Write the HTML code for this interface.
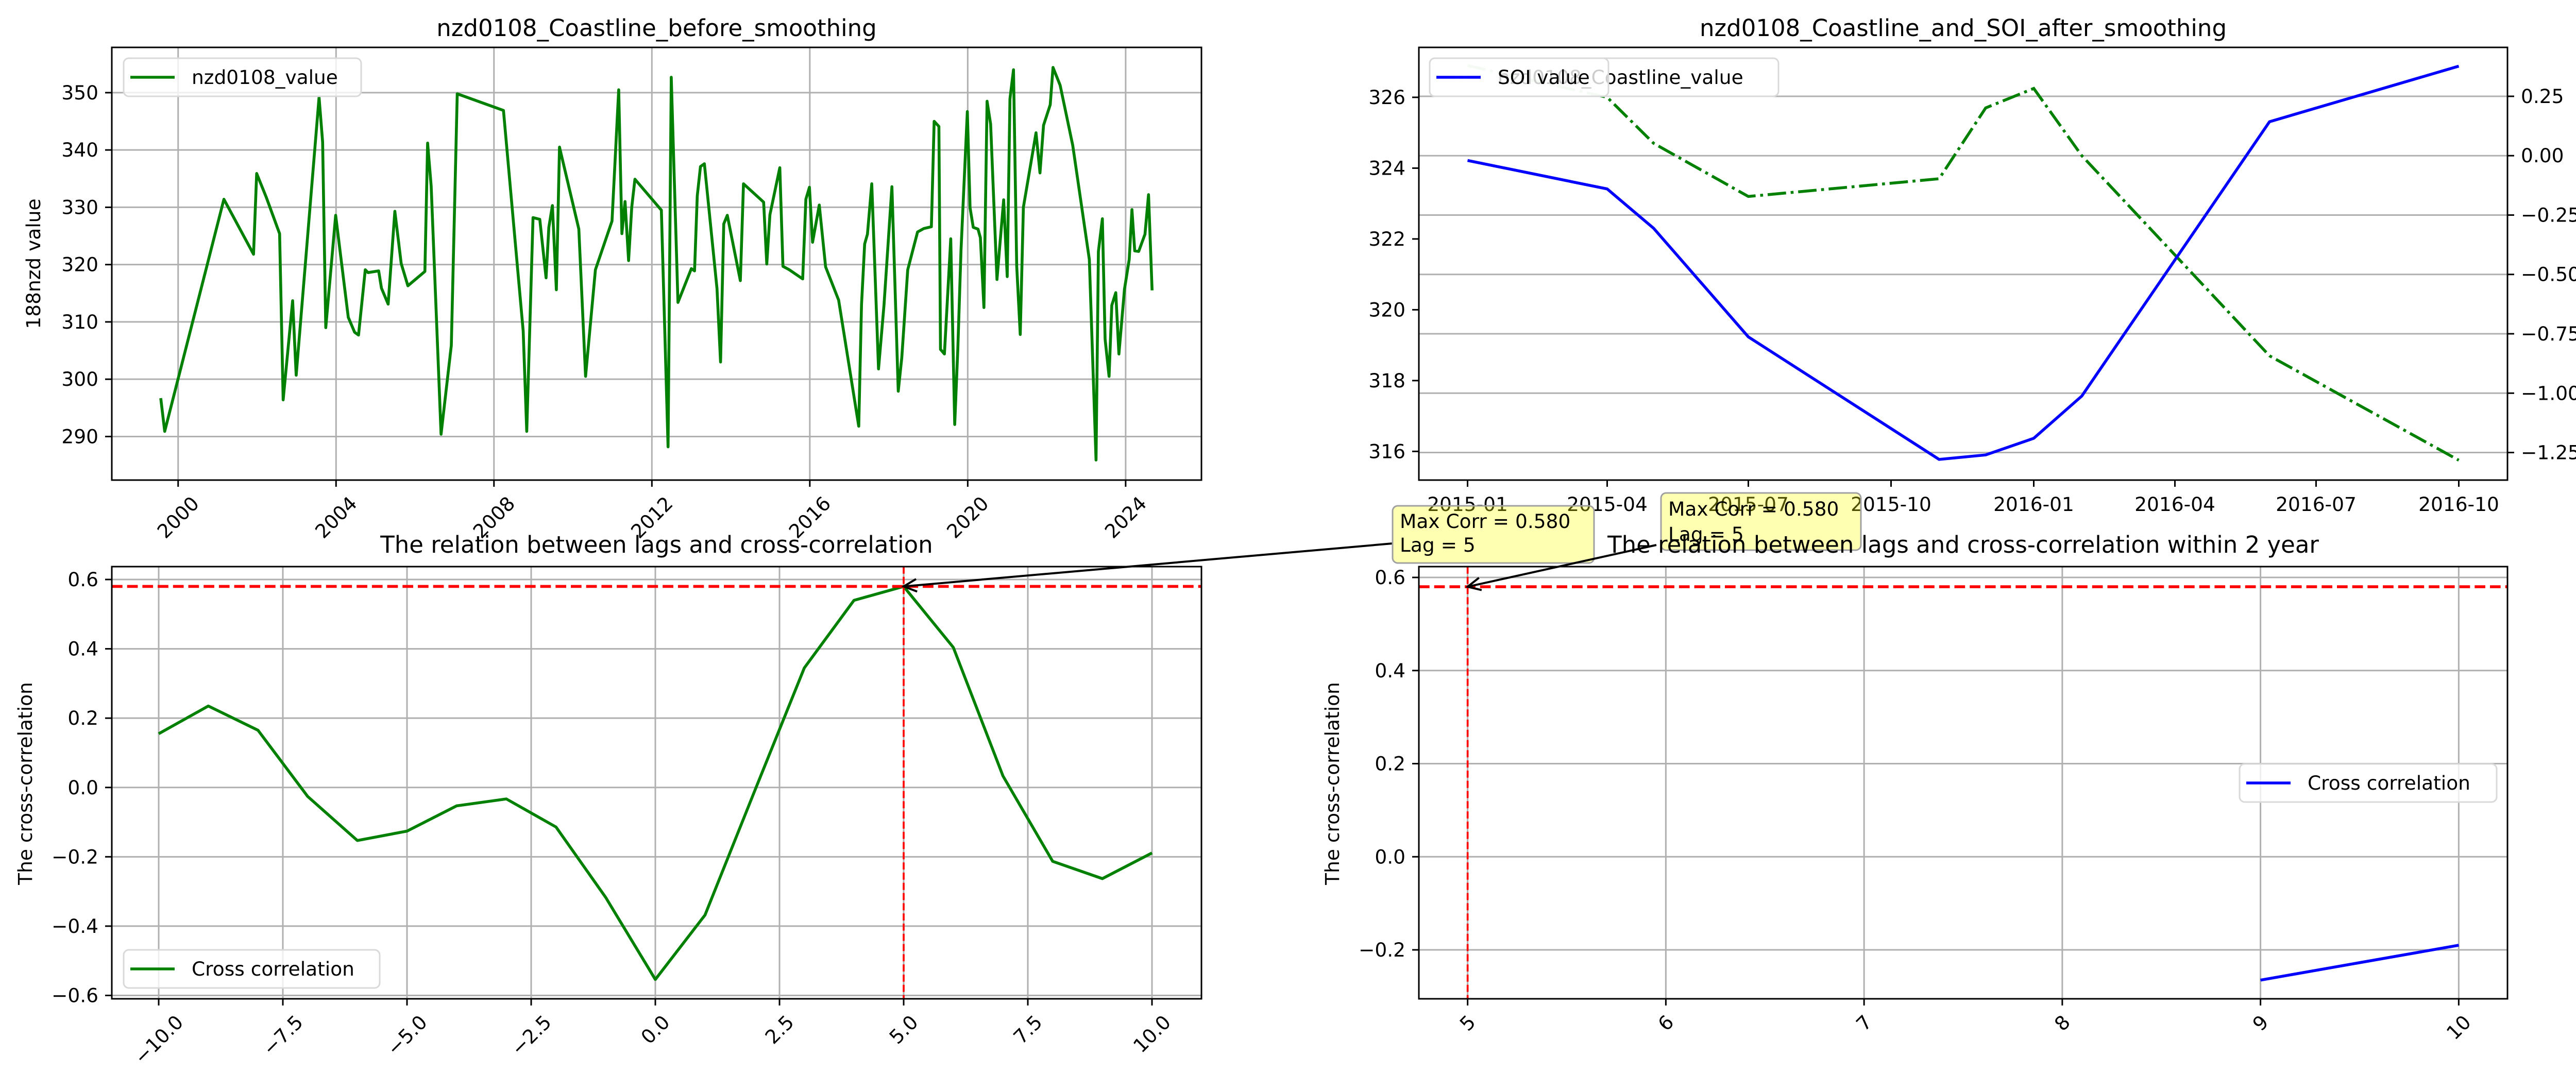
<!DOCTYPE html>
<html><head><meta charset="utf-8"><style>
html,body{margin:0;padding:0;background:#fff;}
svg{display:block;font-family:"DejaVu Sans","Liberation Sans",sans-serif;}
</style></head><body>
<svg id="chart" xmlns="http://www.w3.org/2000/svg" width="5110" height="2118" viewBox="0 0 5110 2118"></svg>
<script>
// ---------- data ----------
const tlYears = [1999.56,1999.66,2001.16,2001.91,2001.99,2002.23,2002.57,2002.66,2002.90,2002.99,2003.57,2003.66,2003.74,2003.99,2004.31,2004.47,2004.57,2004.74,2004.81,2005.08,2005.15,2005.32,2005.49,2005.65,2005.82,2006.25,2006.32,2006.41,2006.66,2006.92,2007.07,2008.24,2008.74,2008.83,2008.99,2009.16,2009.32,2009.39,2009.48,2009.58,2009.66,2010.15,2010.32,2010.57,2010.99,2011.16,2011.24,2011.32,2011.41,2011.49,2011.57,2012.24,2012.41,2012.49,2012.66,2013.00,2013.08,2013.15,2013.23,2013.33,2013.65,2013.74,2013.82,2013.91,2014.24,2014.32,2014.83,2014.91,2014.99,2015.24,2015.32,2015.48,2015.82,2015.90,2015.99,2016.07,2016.24,2016.40,2016.73,2017.24,2017.31,2017.39,2017.46,2017.57,2017.74,2017.88,2018.08,2018.24,2018.33,2018.48,2018.73,2018.89,2019.08,2019.15,2019.27,2019.31,2019.41,2019.57,2019.67,2019.75,2019.83,2019.99,2020.06,2020.14,2020.26,2020.32,2020.41,2020.49,2020.58,2020.74,2020.91,2021.00,2021.07,2021.16,2021.24,2021.33,2021.41,2021.73,2021.83,2021.92,2022.09,2022.16,2022.34,2022.66,2023.08,2023.25,2023.31,2023.41,2023.48,2023.58,2023.65,2023.75,2023.83,2023.97,2024.09,2024.16,2024.23,2024.33,2024.49,2024.58,2024.67];
const tlValues = [296.7,290.9,331.4,321.8,335.9,331.8,325.4,296.4,313.7,300.7,349.2,341.4,309.0,328.6,310.8,308.2,307.7,319.1,318.6,318.9,315.9,313.1,329.3,320.2,316.3,318.8,341.2,333.7,290.4,305.9,349.8,346.9,308.4,290.9,328.2,327.9,317.7,326.5,330.3,315.6,340.5,326.2,300.5,319.1,327.6,350.5,325.4,331.0,320.7,330.0,334.9,329.5,288.2,352.7,313.4,319.3,318.9,332.0,337.1,337.6,315.8,303.0,327.1,328.6,317.2,334.1,330.9,320.1,328.7,336.9,319.7,319.1,317.5,331.4,333.5,323.9,330.4,319.6,313.8,291.8,313.0,323.6,325.3,334.1,301.8,313.0,333.6,297.9,303.8,319.1,325.7,326.3,326.6,345.0,344.1,305.2,304.4,324.5,292.1,305.5,322.5,346.7,329.9,326.5,326.2,324.7,312.5,348.5,344.5,317.4,331.3,317.9,348.9,354.0,319.8,307.8,330.0,343.0,336.0,344.3,347.9,354.4,351.3,340.8,320.9,285.9,322.3,328.0,307.0,300.5,312.9,315.1,304.4,315.7,320.9,329.6,322.4,322.3,325.3,332.2,315.5];
const tlYTicks = [290,300,310,320,330,340,350];
const tlXTicks = [2000,2004,2008,2012,2016,2020,2024];

const trDates = ["2015-01-01","2015-04-01","2015-05-01","2015-07-01","2015-11-01","2015-12-01","2016-01-01","2016-02-01","2016-06-01","2016-10-01"];
const trCoast = [326.9,326.0,324.7,323.2,323.7,325.7,326.25,324.35,318.7,315.75];
const trSOI = [-0.02,-0.14,-0.306,-0.763,-1.279,-1.26,-1.19,-1.012,0.143,0.377];
const trXTicks = ["2015-01","2015-04","2015-07","2015-10","2016-01","2016-04","2016-07","2016-10"];
const trLeftTicks = [316,318,320,322,324,326];
const trRightTicks = [0.25,0,-0.25,-0.5,-0.75,-1.0,-1.25];
const trRightLabels = ["0.25","0.00","\u22120.25","\u22120.50","\u22120.75","\u22121.00","\u22121.25"];

const blLags = [-10,-9,-8,-7,-6,-5,-4,-3,-2,-1,0,1,2,3,4,5,6,7,8,9,10];
const blCorr = [0.155,0.235,0.165,-0.026,-0.153,-0.126,-0.053,-0.033,-0.114,-0.317,-0.554,-0.368,-0.01,0.345,0.54,0.58,0.404,0.033,-0.213,-0.263,-0.189];
const blXTicks = [-10,-7.5,-5,-2.5,0,2.5,5,7.5,10];
const blYTicks = [-0.6,-0.4,-0.2,0,0.2,0.4,0.6];

const brLags = [9,10];
const brCorr = [-0.265,-0.19];
const brXTicks = [5,6,7,8,9,10];
const brYTicks = [-0.2,0,0.2,0.4,0.6];

const maxLag = 5;
const maxCorr = 0.580;

// ---------- helpers ----------
const NS='http://www.w3.org/2000/svg';
const svg=document.getElementById('chart');
function mk(tag, attrs, parent){const e=document.createElementNS(NS,tag);for(const k in attrs)e.setAttribute(k,attrs[k]);(parent||svg).appendChild(e);return e;}
function lin(d0,d1,r0,r1){return v=>r0+(v-d0)*(r1-r0)/(d1-d0);}
function fmt(v,dec){const s=Math.abs(v).toFixed(dec);return (v<-1e-9?'\u2212':'')+s;}
function dayNum(s){const p=s.split('-');return (Date.UTC(+p[0],+p[1]-1,+(p[2]||1))-Date.UTC(2015,0,1))/86400000;}
const FS=37.5, TICK=13, PAD=13;

function frame(ax,name){
  const g=mk('g',{});
  
  
  mk('rect',{x:ax.l,y:ax.t,width:ax.r-ax.l,height:ax.b-ax.t,fill:'none',stroke:'#000','stroke-width':3},g);
}
function ytickLeft(ax,sy,vals,labels,grid,name){
  const g=mk('g',{});
  
  
  vals.forEach((v,i)=>{
    const y=sy(v);
    if(grid){const gl=mk('line',{x1:ax.l,x2:ax.r,y1:y,y2:y,stroke:'#b0b0b0','stroke-width':3},ax.gridG);
      
      }
    mk('line',{x1:ax.l-TICK,x2:ax.l,y1:y,y2:y,stroke:'#000','stroke-width':3},g);
    const t=mk('text',{x:ax.l-TICK-PAD,y:y,'text-anchor':'end','dominant-baseline':'central','font-size':FS},g);
    t.textContent=labels[i];
    
    
  });
}
function ytickRight(ax,sy,vals,labels,grid,name){
  const g=mk('g',{});
  
  
  vals.forEach((v,i)=>{
    const y=sy(v);
    if(grid){const gl=mk('line',{x1:ax.l,x2:ax.r,y1:y,y2:y,stroke:'#b0b0b0','stroke-width':3},ax.gridG);
      
      }
    mk('line',{x1:ax.r,x2:ax.r+TICK,y1:y,y2:y,stroke:'#000','stroke-width':3},g);
    const t=mk('text',{x:ax.r+TICK+PAD,y:y,'text-anchor':'start','dominant-baseline':'central','font-size':FS},g);
    t.textContent=labels[i];
    
    
  });
}
function xticks(ax,sx,vals,labels,grid,rot,name){
  const g=mk('g',{});
  
  
  vals.forEach((v,i)=>{
    const x=sx(v);
    if(grid){const gl=mk('line',{x1:x,x2:x,y1:ax.t,y2:ax.b,stroke:'#b0b0b0','stroke-width':3},ax.gridG);
      
      }
    mk('line',{x1:x,x2:x,y1:ax.b,y2:ax.b+TICK,stroke:'#000','stroke-width':3},g);
    const t=mk('text',{x:0,y:0,'text-anchor':'middle','dominant-baseline':'central','font-size':FS},g);
    t.textContent=labels[i];
    
    
    if(rot){
      const w=t.getComputedTextLength();
      const cy=ax.b+TICK+PAD+(w+FS*0.95)*0.354;
      t.setAttribute('transform','translate('+x+','+cy+') rotate(-45)');
    } else {
      t.setAttribute('transform','translate('+x+','+(ax.b+TICK+PAD+21)+')');
    }
  });
}
function title(x,y,s,name){
  const t=mk('text',{x:x,y:y,'text-anchor':'middle','font-size':45});
  t.textContent=s;
  
  
}
function ylabel(x,y,s,name){
  const t=mk('text',{x:0,y:0,'text-anchor':'middle','dominant-baseline':'central','font-size':FS,transform:'translate('+x+','+y+') rotate(-90)'});
  t.textContent=s;
  
  
}
function pathD(xs,ys,sx,sy){return xs.map((x,i)=>(i?'L':'M')+sx(x).toFixed(1)+','+sy(ys[i]).toFixed(1)).join(' ');}
function newAx(l,r,t,b){const ax={l,r,t,b};ax.gridG=mk('g',{});return ax;}
function legend(x,y,w,h,items,name,opacity){
  const g=mk('g',{});
  
  
  mk('rect',{x:x,y:y,width:w,height:h,rx:10,fill:'#fff','fill-opacity':opacity,stroke:'#d9d9d9','stroke-width':3},g);
  items.forEach(it=>{
    const cy=y+h/2;
    const ln=mk('line',{x1:x+13,x2:x+99,y1:cy,y2:cy,stroke:it.color,'stroke-width':5.6,'stroke-dasharray':it.dash||'none'},g);
    
    
    const t=mk('text',{x:x+132,y:cy,'dominant-baseline':'central','font-size':FS},g);
    t.textContent=it.label;
    
    
  });
}

// ---------- top-left ----------
{
  const ax=newAx(217,2332,92,932);
  const sx=lin(1998.32,2025.92,ax.l,ax.r), sy=lin(282.4,357.9,ax.b,ax.t);
  ytickLeft(ax,sy,tlYTicks,tlYTicks.map(String),true,'tl-y-axis');
  xticks(ax,sx,tlXTicks,tlXTicks.map(String),true,true,'tl-x-axis');
  const p=mk('path',{d:pathD(tlYears,tlValues,sx,sy),fill:'none',stroke:'#008000','stroke-width':5.6,'stroke-linejoin':'round'});
  
  
  frame(ax,'tl');
  legend(240,113,461,74,[{color:'#008000',label:'nzd0108_value'}],'tl-legend',0.8);
  title((ax.l+ax.r)/2,70,'nzd0108_Coastline_before_smoothing','tl-title');
  ylabel(65,512,'188nzd value','tl-y-axis-title');
}

// ---------- top-right ----------
{
  const ax=newAx(2754,4867,92,932);
  const sx=lin(-31.4,670.4,ax.l,ax.r);
  const syL=lin(315.19,327.41,ax.b,ax.t);
  const syR=lin(-1.366,0.456,ax.b,ax.t);
  ytickRight(ax,syR,trRightTicks,trRightLabels,true,'tr-right-y-axis');
  ytickLeft(ax,syL,trLeftTicks,trLeftTicks.map(String),false,'tr-left-y-axis');
  xticks(ax,sx,trXTicks.map(dayNum),trXTicks,false,false,'tr-x-axis');
  const days=trDates.map(dayNum);
  const g=mk('path',{d:pathD(days,trCoast,sx,syL),fill:'none',stroke:'#008000','stroke-width':5.6,'stroke-dasharray':'35.8,9,5.6,9'});
  
  
  const b=mk('path',{d:pathD(days,trSOI,sx,syR),fill:'none',stroke:'#0000ff','stroke-width':5.6,'stroke-linejoin':'round'});
  
  
  frame(ax,'tr');
  legend(2775,113,677,74,[{color:'#008000',label:'nzd0108_Coastline_value',dash:'35.8,9,5.6,9'}],'tr-coastline-legend',0.8);
  legend(2775,113,347,74,[{color:'#0000ff',label:'SOI value'}],'tr-soi-legend',0.8);
  title((ax.l+ax.r)/2,70,'nzd0108_Coastline_and_SOI_after_smoothing','tr-title');
  ylabel(5058,513,'SOI value','tr-right-y-axis-title');
}

// ---------- bottom-left ----------
const blAx=newAx(217,2332,1100,1939);
const blSx=lin(-10.944,10.996,blAx.l,blAx.r), blSy=lin(-0.6,0.6,1932.5,1125);
{
  const ax=blAx;
  ytickLeft(ax,blSy,blYTicks,blYTicks.map(v=>fmt(v,1)),true,'bl-y-axis');
  xticks(ax,blSx,blXTicks,blXTicks.map(v=>fmt(v,1)),true,true,'bl-x-axis');
  const p=mk('path',{d:pathD(blLags,blCorr,blSx,blSy),fill:'none',stroke:'#008000','stroke-width':5.6,'stroke-linejoin':'round'});
  
  
  const h=mk('line',{x1:ax.l,x2:ax.r,y1:blSy(maxCorr),y2:blSy(maxCorr),stroke:'#ff0000','stroke-width':5.6,'stroke-dasharray':'20.7,9'});
  
  
  const v=mk('line',{x1:blSx(maxLag),x2:blSx(maxLag),y1:ax.t,y2:ax.b,stroke:'#ff0000','stroke-width':3.7,'stroke-dasharray':'13.8,6'});
  
  
  frame(ax,'bl');
  legend(240,1844,497,74,[{color:'#008000',label:'Cross correlation'}],'bl-legend',0.8);
  title((ax.l+ax.r)/2,1073,'The relation between lags and cross-correlation','bl-title');
  ylabel(49,1521,'The cross-correlation','bl-y-axis-title');
}

// ---------- bottom-right ----------
const brAx=newAx(2754,4867,1100,1939);
const brSx=lin(4.754,10.246,brAx.l,brAx.r), brSy=lin(-0.2,0.6,1844,1121);
{
  const ax=brAx;
  ytickLeft(ax,brSy,brYTicks,brYTicks.map(v=>fmt(v,1)),true,'br-y-axis');
  xticks(ax,brSx,brXTicks,brXTicks.map(String),true,true,'br-x-axis');
  const p=mk('path',{d:pathD(brLags,brCorr,brSx,brSy),fill:'none',stroke:'#0000ff','stroke-width':5.6});
  
  
  const h=mk('line',{x1:ax.l,x2:ax.r,y1:brSy(maxCorr),y2:brSy(maxCorr),stroke:'#ff0000','stroke-width':5.6,'stroke-dasharray':'20.7,9'});
  
  
  const v=mk('line',{x1:brSx(maxLag),x2:brSx(maxLag),y1:ax.t,y2:ax.b,stroke:'#ff0000','stroke-width':3.7,'stroke-dasharray':'13.8,6'});
  
  
  frame(ax,'br');
  legend(4347,1483,499,74,[{color:'#0000ff',label:'Cross correlation'}],'br-legend',0.8);
}

// ---------- annotations ----------
function annot(bx,by,bw,bh,ty1,ty2,sx0,sy0,tx,ty,name){
  const g=mk('g',{});
  
  
  const ang=Math.atan2(ty-sy0,tx-sx0);
  const ln=mk('line',{x1:sx0,y1:sy0,x2:tx,y2:ty,stroke:'#000','stroke-width':4},g);
  
  
  const L=28,a=0.45;
  const hd=mk('path',{d:'M'+(tx-L*Math.cos(ang-a))+','+(ty-L*Math.sin(ang-a))+' L'+tx+','+ty+' L'+(tx-L*Math.cos(ang+a))+','+(ty-L*Math.sin(ang+a)),fill:'none',stroke:'#000','stroke-width':4},g);
  
  
  const r=mk('rect',{x:bx,y:by,width:bw,height:bh,rx:10,fill:'#ffff00','fill-opacity':0.3,stroke:'#a0a0a0','stroke-width':3},g);
  
  
  const t1=mk('text',{x:bx+14,y:ty1,'dominant-baseline':'central','font-size':FS},g);
  t1.textContent='Max Corr = '+maxCorr.toFixed(3);
  
  
  const t2=mk('text',{x:bx+14,y:ty2,'dominant-baseline':'central','font-size':FS},g);
  t2.textContent='Lag = '+maxLag;
  
  
}
annot(2703,982,391,111,1012,1058,2703,1055,blSx(maxLag),blSy(maxCorr),'bl-annotation');
annot(3224,957,388,111,988,1037,3215,1058,brSx(maxLag),brSy(maxCorr),'br-annotation');
title((brAx.l+brAx.r)/2,1073,'The relation between lags and cross-correlation within 2 year','br-title');
ylabel(2586,1521,'The cross-correlation','br-y-axis-title');
</script>
</body></html>
